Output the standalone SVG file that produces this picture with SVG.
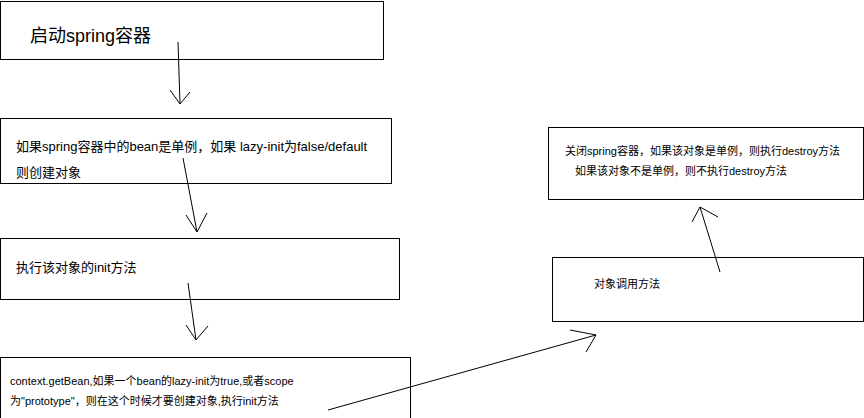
<svg xmlns="http://www.w3.org/2000/svg" width="864" height="418" viewBox="0 0 864 418">
<style>
.b{fill:#fff;stroke:#000;stroke-width:1}
.t{font-family:"Liberation Sans","Noto Sans CJK SC",sans-serif;fill:#000}
.c path{fill:none;stroke:#000;stroke-width:1}
</style>
<rect width="864" height="418" fill="#fff"/>
<g id="n1"><rect class="b" x="0.5" y="1.5" width="383" height="58"/><text class="t" x="30" y="42" font-size="18">启动spring容器</text></g>
<g id="n2"><rect class="b" x="0.5" y="118.5" width="391" height="65"/><text class="t" x="16" y="151" font-size="13">如果spring容器中的bean是单例，如果 lazy-init为false/default</text><text class="t" x="16" y="177" font-size="13">则创建对象</text></g>
<g id="n3"><rect class="b" x="0.5" y="238.5" width="399" height="61"/><text class="t" x="16" y="272" font-size="13">执行该对象的init方法</text></g>
<g id="n4"><rect class="b" x="0.5" y="357.5" width="410" height="62"/><text class="t" x="10" y="385" font-size="11">context.getBean,如果一个bean的lazy-init为true,或者scope</text><text class="t" x="10" y="405" font-size="11">为"prototype"，则在这个时候才要创建对象,执行init方法</text></g>
<g id="n5"><rect class="b" x="548.5" y="127.5" width="315" height="72"/><text class="t" x="565" y="155" font-size="11">关闭spring容器，如果该对象是单例，则执行destroy方法</text><text class="t" x="575" y="175" font-size="11">如果该对象不是单例，则不执行destroy方法</text></g>
<g id="n6"><rect class="b" x="552.5" y="257.5" width="311" height="64"/><text class="t" x="594" y="288" font-size="11">对象调用方法</text></g>
<g class="c" id="connectors">
<path d="M178 42 L180 104 M170 90 L180 104 L190 92"/>
<path d="M183 158 L197 232 M186 215 L197 232 L207 213"/>
<path d="M188 283 L196 340 M186 325 L196 340 L208 326"/>
<path d="M328 410 L596 335 M570 330 L596 335 L586 352"/>
<path d="M720 272 L700 207 M692 222 L700 207 L718 217"/>
</g>
</svg>
